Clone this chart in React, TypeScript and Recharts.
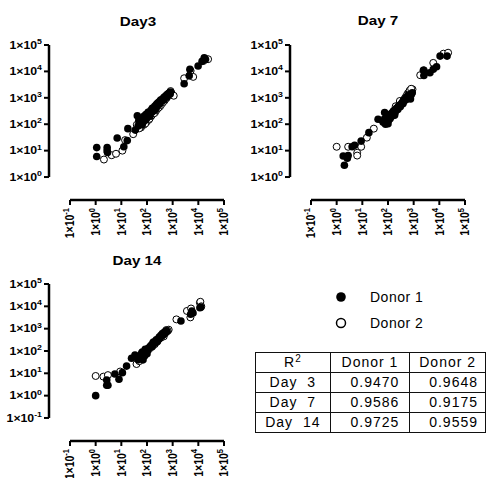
import { ReferenceLine, Scatter, ScatterChart, XAxis, YAxis } from "recharts"

// tick values (log axes)
const xTicks = [0.1, 1, 10, 100, 1000, 10000, 100000]
const yTicksEarly = [1, 10, 100, 1000, 10000, 100000]
const yTicksLate = [0.1, 1, 10, 100, 1000, 10000, 100000]

// Day 3
const day3Donor1 = [
  { x: 1.1, y: 13 }, { x: 1.1, y: 6 }, { x: 2.8, y: 13 }, { x: 2.8, y: 10 }, { x: 2.9, y: 8.5 },
  { x: 6.9, y: 30 }, { x: 12.5, y: 14 }, { x: 17, y: 24 }, { x: 18, y: 68 }, { x: 42, y: 210 },
  { x: 50, y: 115 }, { x: 76, y: 200 }, { x: 45, y: 85 }, { x: 55, y: 100 }, { x: 62, y: 150 },
  { x: 70, y: 120 }, { x: 80, y: 170 }, { x: 90, y: 230 }, { x: 100, y: 190 }, { x: 110, y: 280 },
  { x: 125, y: 250 }, { x: 140, y: 330 }, { x: 160, y: 400 }, { x: 180, y: 370 }, { x: 200, y: 480 },
  { x: 230, y: 560 }, { x: 260, y: 640 }, { x: 300, y: 700 }, { x: 340, y: 820 }, { x: 400, y: 900 },
  { x: 460, y: 1050 }, { x: 540, y: 1200 }, { x: 620, y: 1350 }, { x: 720, y: 1500 }, { x: 820, y: 1650 },
  { x: 35, y: 60 }, { x: 48, y: 140 }, { x: 65, y: 95 }, { x: 85, y: 140 }, { x: 95, y: 160 },
  { x: 105, y: 240 }, { x: 130, y: 200 }, { x: 150, y: 280 }, { x: 170, y: 310 }, { x: 190, y: 420 },
  { x: 210, y: 350 }, { x: 240, y: 450 }, { x: 280, y: 560 }, { x: 320, y: 600 }, { x: 380, y: 760 },
  { x: 440, y: 820 }, { x: 500, y: 1000 }, { x: 580, y: 1100 }, { x: 700, y: 1300 }, { x: 800, y: 1400 },
  { x: 2800, y: 3400 }, { x: 4400, y: 6800 }, { x: 4700, y: 12000 }, { x: 9800, y: 16000 },
  { x: 14000, y: 24000 }, { x: 19000, y: 29000 }, { x: 17000, y: 33000 },
]
const day3Donor2 = [
  { x: 2.1, y: 4.6 }, { x: 4.2, y: 6.7 }, { x: 6.2, y: 7.6 }, { x: 11, y: 10 }, { x: 14, y: 25 },
  { x: 29, y: 42 }, { x: 40, y: 95 }, { x: 58, y: 75 }, { x: 75, y: 95 }, { x: 95, y: 120 },
  { x: 115, y: 145 }, { x: 135, y: 190 }, { x: 170, y: 250 }, { x: 210, y: 290 }, { x: 250, y: 380 },
  { x: 320, y: 470 }, { x: 390, y: 620 }, { x: 480, y: 780 }, { x: 580, y: 980 }, { x: 690, y: 1250 },
  { x: 50, y: 70 }, { x: 65, y: 110 }, { x: 85, y: 105 }, { x: 105, y: 170 }, { x: 125, y: 160 },
  { x: 150, y: 210 }, { x: 190, y: 260 }, { x: 230, y: 340 }, { x: 280, y: 420 }, { x: 350, y: 540 },
  { x: 430, y: 700 }, { x: 520, y: 900 }, { x: 620, y: 1100 }, { x: 750, y: 1400 }, { x: 900, y: 1500 },
  { x: 830, y: 1800 }, { x: 1100, y: 1200 }, { x: 2800, y: 5500 }, { x: 6300, y: 6200 },
  { x: 5000, y: 10500 }, { x: 16000, y: 25000 }, { x: 24000, y: 29000 },
]

// Day 7
const day7Donor1 = [
  { x: 2.0, y: 2.8 }, { x: 1.8, y: 6.3 }, { x: 2.6, y: 5.2 }, { x: 2.8, y: 6.5 }, { x: 4, y: 14 },
  { x: 5, y: 16 }, { x: 9, y: 23 }, { x: 18, y: 48 }, { x: 41, y: 155 }, { x: 74, y: 275 },
  { x: 80, y: 100 }, { x: 90, y: 130 }, { x: 100, y: 105 }, { x: 110, y: 200 }, { x: 120, y: 160 },
  { x: 140, y: 250 }, { x: 160, y: 300 }, { x: 180, y: 220 }, { x: 200, y: 350 }, { x: 230, y: 420 },
  { x: 260, y: 500 }, { x: 300, y: 460 }, { x: 350, y: 650 }, { x: 400, y: 700 }, { x: 460, y: 900 },
  { x: 550, y: 1100 }, { x: 650, y: 1300 }, { x: 750, y: 900 }, { x: 880, y: 1550 },
  { x: 65, y: 120 }, { x: 75, y: 160 }, { x: 85, y: 180 }, { x: 95, y: 150 }, { x: 105, y: 140 },
  { x: 115, y: 230 }, { x: 130, y: 190 }, { x: 150, y: 210 }, { x: 170, y: 330 }, { x: 190, y: 280 },
  { x: 210, y: 390 }, { x: 240, y: 360 }, { x: 280, y: 520 }, { x: 320, y: 560 }, { x: 380, y: 600 },
  { x: 430, y: 800 }, { x: 500, y: 850 }, { x: 600, y: 1200 }, { x: 700, y: 1000 }, { x: 800, y: 1300 },
  { x: 2500, y: 7000 }, { x: 2400, y: 11000 }, { x: 4300, y: 8900 }, { x: 5800, y: 12000 },
  { x: 7800, y: 15000 }, { x: 10700, y: 38000 }, { x: 20000, y: 38000 },
]
const day7Donor2 = [
  { x: 1.0, y: 14 }, { x: 2.8, y: 14 }, { x: 6.3, y: 8.3 }, { x: 6.3, y: 6.5 }, { x: 9, y: 14 },
  { x: 15, y: 31 }, { x: 28, y: 68 }, { x: 60, y: 140 }, { x: 100, y: 230 }, { x: 150, y: 280 },
  { x: 200, y: 480 }, { x: 290, y: 760 }, { x: 400, y: 800 }, { x: 500, y: 1100 }, { x: 600, y: 1500 },
  { x: 80, y: 150 }, { x: 120, y: 190 }, { x: 180, y: 300 }, { x: 250, y: 420 }, { x: 350, y: 600 },
  { x: 450, y: 950 }, { x: 550, y: 1300 }, { x: 650, y: 1600 }, { x: 750, y: 1700 }, { x: 900, y: 2100 },
  { x: 700, y: 1900 }, { x: 800, y: 2200 }, { x: 1800, y: 7200 }, { x: 2500, y: 11000 },
  { x: 5800, y: 21000 }, { x: 14500, y: 47000 }, { x: 22000, y: 51000 },
]

// Day 14
const day14Donor1 = [
  { x: 1.0, y: 1.0 }, { x: 2.7, y: 5 }, { x: 2.7, y: 2.9 }, { x: 3.0, y: 2.9 }, { x: 5.6, y: 9.3 },
  { x: 8.1, y: 5.4 }, { x: 11, y: 10.7 }, { x: 16, y: 21 }, { x: 25, y: 47 }, { x: 34, y: 66 },
  { x: 62, y: 79 }, { x: 70, y: 40 }, { x: 80, y: 60 }, { x: 90, y: 100 }, { x: 100, y: 75 },
  { x: 110, y: 130 }, { x: 130, y: 150 }, { x: 150, y: 180 }, { x: 170, y: 230 }, { x: 200, y: 250 },
  { x: 230, y: 320 }, { x: 260, y: 290 }, { x: 300, y: 420 }, { x: 350, y: 500 }, { x: 400, y: 600 },
  { x: 45, y: 40 }, { x: 55, y: 55 }, { x: 65, y: 90 }, { x: 75, y: 70 }, { x: 85, y: 120 },
  { x: 95, y: 90 }, { x: 105, y: 105 }, { x: 120, y: 140 }, { x: 140, y: 170 }, { x: 160, y: 160 },
  { x: 180, y: 250 }, { x: 210, y: 230 }, { x: 240, y: 270 }, { x: 280, y: 350 }, { x: 320, y: 380 },
  { x: 380, y: 480 }, { x: 450, y: 560 }, { x: 520, y: 650 }, { x: 600, y: 750 },
  { x: 480, y: 700 }, { x: 560, y: 800 }, { x: 2100, y: 2200 }, { x: 5000, y: 4400 },
  { x: 5600, y: 6200 }, { x: 6200, y: 5000 }, { x: 11500, y: 8700 }, { x: 12500, y: 9200 },
]
const day14Donor2 = [
  { x: 1.0, y: 7.6 }, { x: 2.0, y: 7.1 }, { x: 3.0, y: 8.3 }, { x: 9, y: 12 }, { x: 39, y: 26 },
  { x: 60, y: 50 }, { x: 100, y: 110 }, { x: 150, y: 150 }, { x: 200, y: 200 }, { x: 300, y: 350 },
  { x: 50, y: 35 }, { x: 80, y: 70 }, { x: 120, y: 120 }, { x: 170, y: 180 }, { x: 250, y: 260 },
  { x: 350, y: 400 }, { x: 450, y: 450 }, { x: 700, y: 900 },
  { x: 400, y: 500 }, { x: 500, y: 620 }, { x: 570, y: 870 }, { x: 640, y: 800 }, { x: 1400, y: 2600 },
  { x: 3600, y: 6200 }, { x: 4900, y: 3200 }, { x: 5200, y: 8000 }, { x: 11500, y: 14500 },
  { x: 12000, y: 16000 }, { x: 13000, y: 10000 },
]

// R² table
const tableRows = ["Day\u00a0\u00a03", "Day\u00a0\u00a07", "Day\u00a0\u00a014"]
const r2Donor1 = ["0.9470", "0.9586", "0.9725"]
const r2Donor2 = ["0.9648", "0.9175", "0.9559"]

const FONT = "'Liberation Sans', Arial, sans-serif"
const STRETCH = 1.17 // the source image is a bit wider than tall

const exponent = (v: number) => {
  const e = Math.round(Math.log10(v))
  return e < 0 ? `-${-e}` : `${e}`
}

const YTick = (props: any) => {
  const { x, y, payload } = props
  return (
    <g transform={`translate(${x},${y}) scale(${STRETCH},1)`}>
      <text x={0} y={3.8} textAnchor="end" fontSize={10.5} fontWeight="bold" fill="#000" fontFamily={FONT}>
        1×10<tspan dy={-4.8} fontSize={7.5}>{exponent(payload.value)}</tspan>
      </text>
    </g>
  )
}

const XTick = (props: any) => {
  const { x, y, payload } = props
  return (
    <g transform={`translate(${x},${y}) scale(${STRETCH},1) rotate(-90)`}>
      <text x={0} y={3.8} textAnchor="end" fontSize={10.5} fontWeight="bold" fill="#000" fontFamily={FONT}>
        1×10<tspan dy={-4.8} fontSize={7.5}>{exponent(payload.value)}</tspan>
      </text>
    </g>
  )
}

const FilledDot = (props: any) => <circle cx={props.cx} cy={props.cy} r={3.8} fill="#000" />
const OpenDot = (props: any) => (
  <circle cx={props.cx} cy={props.cy} r={3.5} fill="#fff" stroke="#000" strokeWidth={1} />
)

type PanelProps = {
  title: string
  left: number
  top: number
  height: number
  plotTop: number
  xLow: number
  yLow: number
  yTicks: number[]
  donor1: { x: number; y: number }[]
  donor2: { x: number; y: number }[]
  titleX: number
  titleY: number
}

function Panel({ title, left, top, height, plotTop, xLow, yLow, yTicks, donor1, donor2, titleX, titleY }: PanelProps) {
  const yMax = yTicks[yTicks.length - 1]
  return (
    <div style={{ position: "absolute", left, top, width: 243, height }}>
      <div
        style={{
          position: "absolute",
          left: titleX,
          top: titleY,
          transform: `translate(-50%, -50%) scaleX(${STRETCH})`,
          fontFamily: FONT,
          fontWeight: "bold",
          fontSize: 13,
          whiteSpace: "nowrap",
        }}
      >
        {title}
      </div>
      <ScatterChart width={243} height={height} margin={{ top: plotTop, right: 19, bottom: 0, left: 0 }}>
        <XAxis
          type="number"
          dataKey="x"
          scale="log"
          domain={[xLow, 100000]}
          allowDataOverflow
          ticks={xTicks}
          interval={0}
          height={height - 200 + (plotTop === 44 ? -1 : 0)}
          axisLine={false}
          tickLine={{ stroke: "#000", strokeWidth: 2 }}
          tickSize={5}
          tickMargin={3}
          tick={<XTick />}
        />
        <YAxis
          type="number"
          dataKey="y"
          scale="log"
          domain={[yLow, 100000]}
          allowDataOverflow
          ticks={yTicks}
          interval={0}
          width={49}
          axisLine={false}
          tickLine={{ stroke: "#000", strokeWidth: 2 }}
          tickSize={5}
          tickMargin={2}
          tick={<YTick />}
        />
        <ReferenceLine
          segment={[{ x: xLow, y: yTicks[0] }, { x: xLow, y: yMax }]}
          stroke="#000"
          strokeWidth={2.5}
          ifOverflow="visible"
        />
        <ReferenceLine
          segment={[{ x: xTicks[0], y: yLow }, { x: 100000, y: yLow }]}
          stroke="#000"
          strokeWidth={2.5}
          ifOverflow="visible"
        />
        <Scatter name="Donor 2" data={donor2} isAnimationActive={false} shape={<OpenDot />} />
        <Scatter name="Donor 1" data={donor1} isAnimationActive={false} shape={<FilledDot />} />
      </ScatterChart>
    </div>
  )
}

const cell: React.CSSProperties = {
  border: "1.5px solid #111",
  height: 19,
  padding: 0,
  fontSize: 14,
  letterSpacing: 1,
  lineHeight: "19px",
}

export default function App() {
  return (
    <div style={{ position: "absolute", left: 0, top: 0, width: 486, height: 478, background: "#fff", overflow: "hidden" }}>
      <Panel
        title="Day3"
        left={0}
        top={0}
        height={240}
        plotTop={45}
        xLow={0.0152}
        yLow={0.135}
        yTicks={yTicksEarly}
        donor1={day3Donor1}
        donor2={day3Donor2}
        titleX={138}
        titleY={21}
      />
      <Panel
        title="Day 7"
        left={241}
        top={0}
        height={240}
        plotTop={45}
        xLow={0.0152}
        yLow={0.135}
        yTicks={yTicksEarly}
        donor1={day7Donor1}
        donor2={day7Donor2}
        titleX={137}
        titleY={20}
      />
      <Panel
        title="Day 14"
        left={0}
        top={240}
        height={238}
        plotTop={44}
        xLow={0.0152}
        yLow={0.0093}
        yTicks={yTicksLate}
        donor1={day14Donor1}
        donor2={day14Donor2}
        titleX={137}
        titleY={20}
      />

      {/* legend */}
      <svg style={{ position: "absolute", left: 330, top: 286 }} width={24} height={48}>
        <circle cx={11} cy={11} r={4.8} fill="#000" />
        <circle cx={11} cy={37} r={4.5} fill="#fff" stroke="#000" strokeWidth={1.5} />
      </svg>
      {["Donor 1", "Donor 2"].map((name, i) => (
        <div
          key={name}
          style={{
            position: "absolute",
            left: 370,
            top: 297 + i * 26 - 9,
            fontFamily: FONT,
            fontSize: 14,
            letterSpacing: 0.5,
            lineHeight: "18px",
          }}
        >
          {name}
        </div>
      ))}

      {/* R² table */}
      <table
        style={{
          position: "absolute",
          left: 255,
          top: 352,
          borderCollapse: "collapse",
          tableLayout: "fixed",
          fontFamily: FONT,
          color: "#000",
        }}
      >
        <tbody>
          <tr>
            <td style={{ ...cell, width: 75, textAlign: "center" }}>
              R<sup style={{ fontSize: 10, verticalAlign: "5px", lineHeight: 0 }}>2</sup>
            </td>
            <td style={{ ...cell, width: 80, textAlign: "center" }}>Donor 1</td>
            <td style={{ ...cell, width: 76, textAlign: "center" }}>Donor 2</td>
          </tr>
          {tableRows.map((row, i) => (
            <tr key={row}>
              <td style={{ ...cell, textAlign: "center" }}>{row}</td>
              <td style={{ ...cell, textAlign: "right", paddingRight: 10 }}>{r2Donor1[i]}</td>
              <td style={{ ...cell, textAlign: "right", paddingRight: 7 }}>{r2Donor2[i]}</td>
            </tr>
          ))}
        </tbody>
      </table>
    </div>
  )
}
